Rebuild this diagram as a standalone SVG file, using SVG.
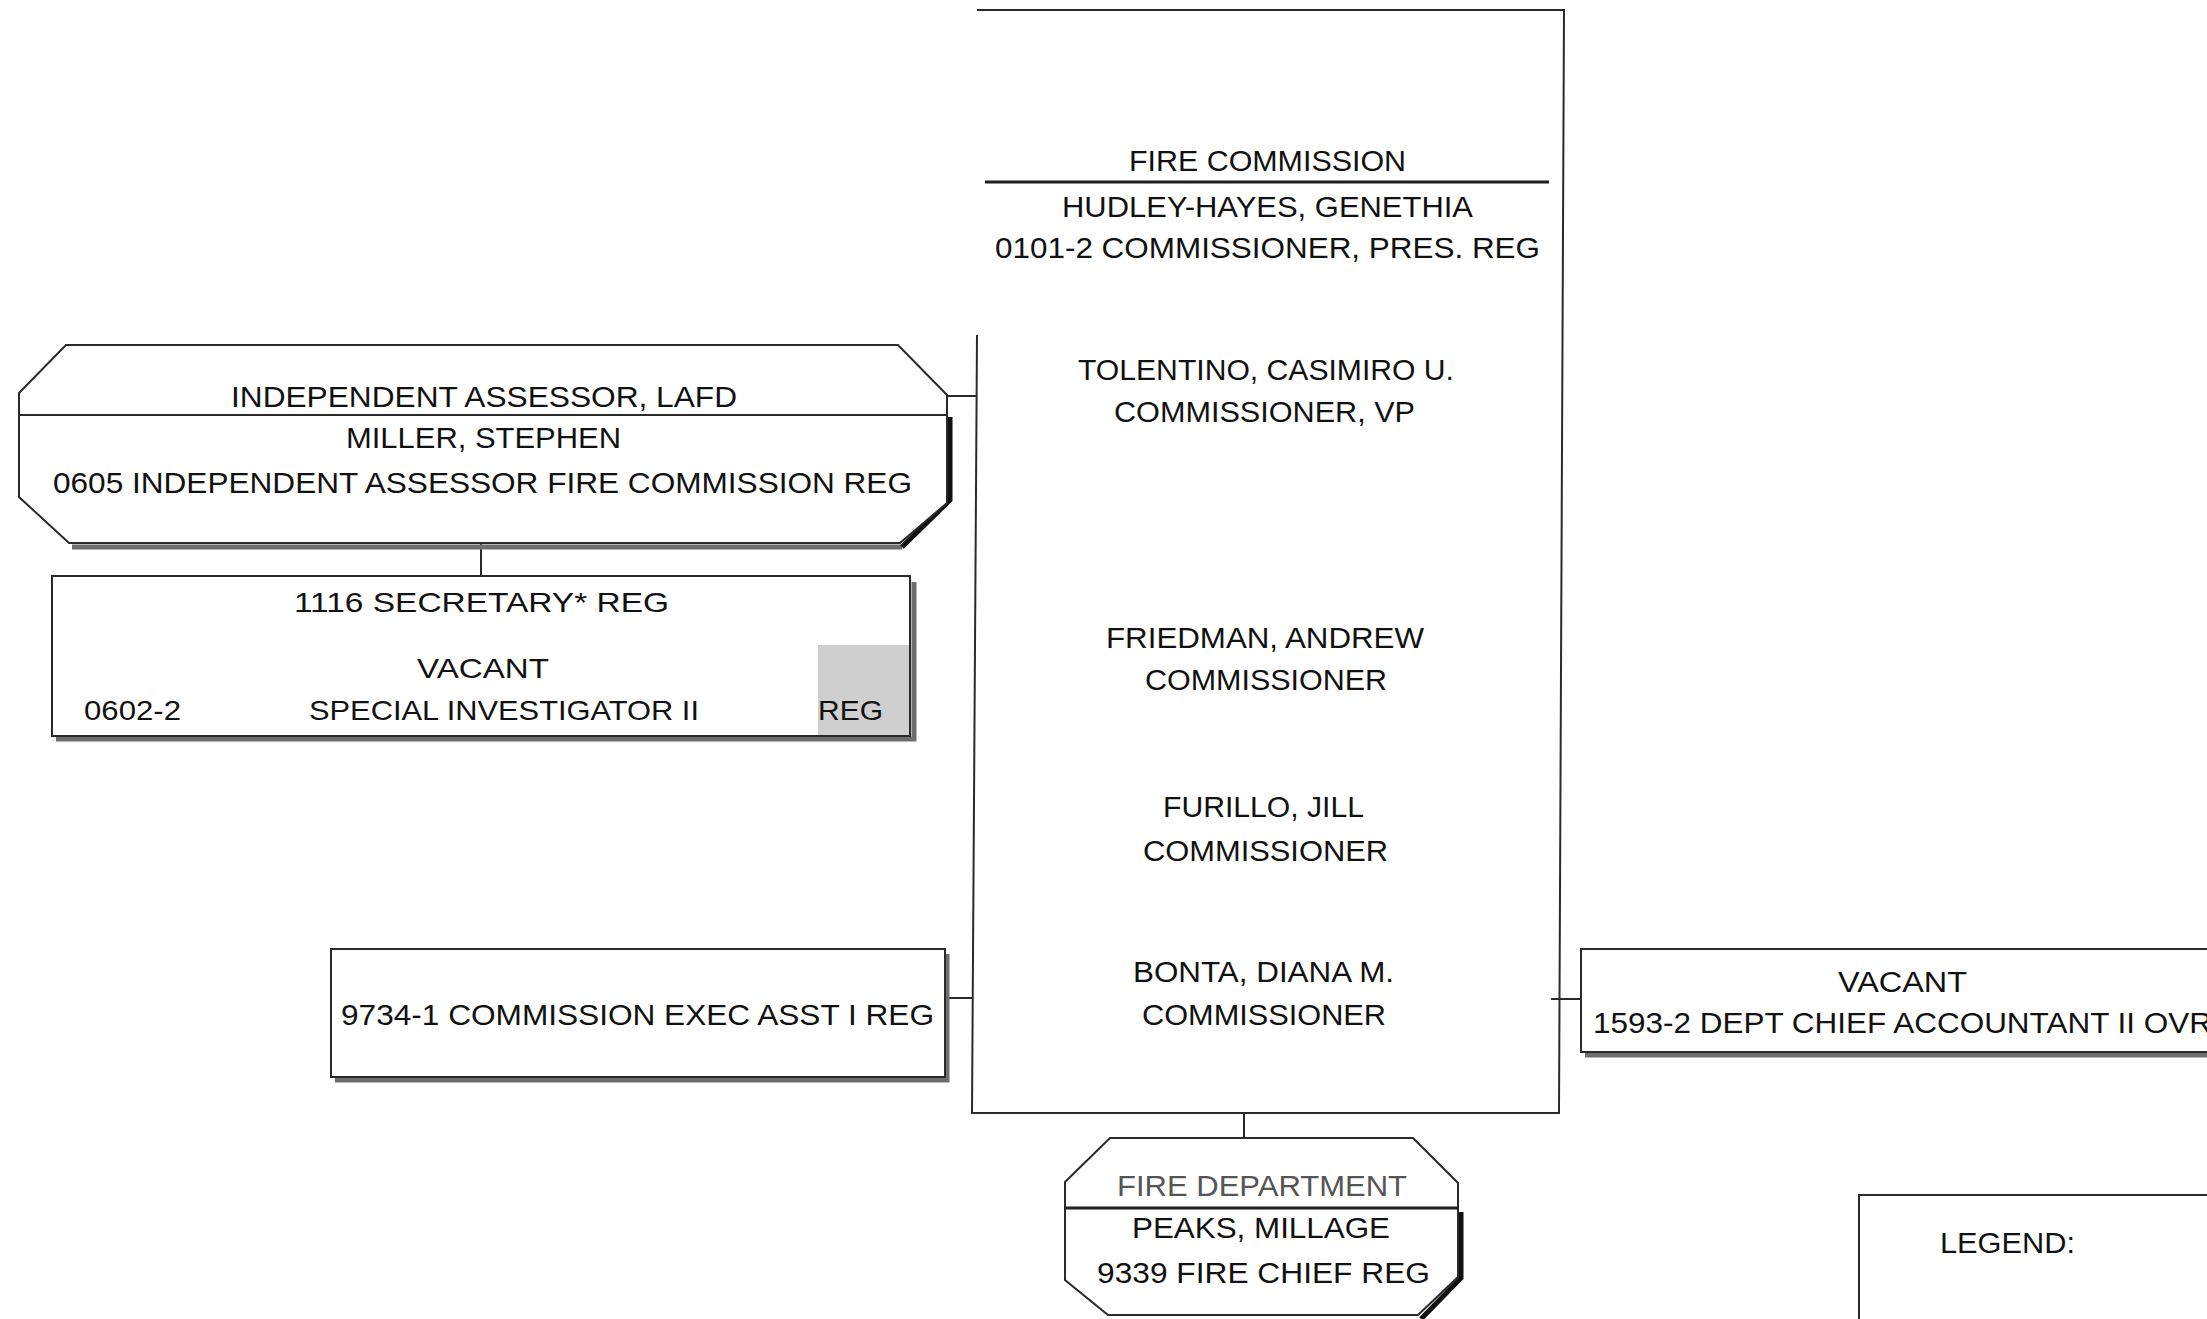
<svg xmlns="http://www.w3.org/2000/svg" width="2207" height="1319" viewBox="0 0 2207 1319">
<style>
.ln{fill:none;stroke:#2a2a2a;stroke-width:2}
.bx{fill:#fff;stroke:#2a2a2a;stroke-width:2}
.sep{fill:none;stroke:#1e1e1e;stroke-width:3}
.sh{fill:none;stroke:#6e6e6e;stroke-width:5}
.shb{fill:none;stroke:#111;stroke-width:5}
text{font-family:"Liberation Sans",Arial,sans-serif;font-size:30px;fill:#111}
.sm{font-size:28px}
.gr{fill:#555}
</style>
<rect x="0" y="0" width="2207" height="1319" fill="#fff"/>
<g id="connectors">
<path class="ln" d="M481,543 L481,576"/>
<path class="ln" d="M947,396 L977,396"/>
<path class="ln" d="M945,998 L972,998"/>
<path class="ln" d="M1551,999 L1581,999"/>
<path class="ln" d="M1244,1113 L1244,1138"/>
</g>
<g id="fire-commission">
<path class="ln" d="M977,335 L972,1113 L1559,1113 L1564,10 L977,10"/>
<path class="sep" d="M985,182 L1549,182"/>
<text x="1129" y="171" textLength="277" lengthAdjust="spacingAndGlyphs">FIRE COMMISSION</text>
<text x="1062" y="217" textLength="411" lengthAdjust="spacingAndGlyphs">HUDLEY-HAYES, GENETHIA</text>
<text x="995" y="258" textLength="545" lengthAdjust="spacingAndGlyphs">0101-2 COMMISSIONER, PRES. REG</text>
<text x="1078" y="380" textLength="376" lengthAdjust="spacingAndGlyphs">TOLENTINO, CASIMIRO U.</text>
<text x="1114" y="422" textLength="301" lengthAdjust="spacingAndGlyphs">COMMISSIONER, VP</text>
<text x="1106" y="648" textLength="318" lengthAdjust="spacingAndGlyphs">FRIEDMAN, ANDREW</text>
<text x="1145" y="690" textLength="242" lengthAdjust="spacingAndGlyphs">COMMISSIONER</text>
<text x="1163" y="817" textLength="201" lengthAdjust="spacingAndGlyphs">FURILLO, JILL</text>
<text x="1143" y="861" textLength="245" lengthAdjust="spacingAndGlyphs">COMMISSIONER</text>
<text x="1133" y="982" textLength="261" lengthAdjust="spacingAndGlyphs">BONTA, DIANA M.</text>
<text x="1142" y="1025" textLength="244" lengthAdjust="spacingAndGlyphs">COMMISSIONER</text>
</g>
<g id="independent-assessor">
<path class="sh" d="M72,547 L902,547"/>
<path class="shb" d="M950,417 L950,500 L902,547"/>
<polygon class="bx" points="66,345 898,345 947,395 947,503 900,543 69,543 19,497 19,393"/>
<path class="ln" d="M19,415 L947,415"/>
<text x="231" y="407" textLength="506" lengthAdjust="spacingAndGlyphs">INDEPENDENT ASSESSOR, LAFD</text>
<text x="346" y="448" textLength="275" lengthAdjust="spacingAndGlyphs">MILLER, STEPHEN</text>
<text x="53" y="493" textLength="859" lengthAdjust="spacingAndGlyphs">0605  INDEPENDENT ASSESSOR FIRE COMMISSION  REG</text>
</g>
<g id="secretary">
<path class="sh" d="M914,582 L914,739 L56,739"/>
<rect class="bx" x="52" y="576" width="858" height="160"/>
<rect x="818" y="645" width="91" height="90" fill="#cfcfcf"/>
<text class="sm" x="294" y="612" textLength="375" lengthAdjust="spacingAndGlyphs">1116  SECRETARY*  REG</text>
<text class="sm" x="417" y="678" textLength="132" lengthAdjust="spacingAndGlyphs">VACANT</text>
<text class="sm" x="84" y="720" textLength="97" lengthAdjust="spacingAndGlyphs">0602-2</text>
<text class="sm" x="309" y="720" textLength="390" lengthAdjust="spacingAndGlyphs">SPECIAL INVESTIGATOR II</text>
<text class="sm" x="818" y="720" textLength="65" lengthAdjust="spacingAndGlyphs">REG</text>
</g>
<g id="exec-asst">
<path class="sh" d="M947,954 L947,1080 L335,1080"/>
<rect class="bx" x="331" y="949" width="614" height="128"/>
<text x="341" y="1025" textLength="593" lengthAdjust="spacingAndGlyphs">9734-1 COMMISSION EXEC ASST I REG</text>
</g>
<g id="dept-chief-accountant">
<path class="sh" d="M1585,1055 L2207,1055"/>
<rect class="bx" x="1581" y="949" width="700" height="103"/>
<text x="1838" y="992" textLength="129" lengthAdjust="spacingAndGlyphs">VACANT</text>
<text x="1593" y="1033" textLength="619" lengthAdjust="spacingAndGlyphs">1593-2  DEPT CHIEF ACCOUNTANT II OVR</text>
</g>
<g id="fire-department">
<path class="shb" d="M1461,1212 L1461,1278 L1421,1319"/>
<polygon class="bx" points="1110,1138 1413,1138 1458,1183 1458,1277 1418,1315 1108,1315 1065,1280 1065,1182"/>
<path class="sep" d="M1065,1208 L1458,1208"/>
<text class="gr" x="1117" y="1196" textLength="290" lengthAdjust="spacingAndGlyphs">FIRE DEPARTMENT</text>
<text x="1132" y="1238" textLength="258" lengthAdjust="spacingAndGlyphs">PEAKS, MILLAGE</text>
<text x="1097" y="1283" textLength="333" lengthAdjust="spacingAndGlyphs">9339 FIRE CHIEF REG</text>
</g>
<g id="legend">
<rect class="bx" x="1859" y="1195" width="400" height="200"/>
<text x="1940" y="1253" textLength="135" lengthAdjust="spacingAndGlyphs">LEGEND:</text>
</g>
</svg>
